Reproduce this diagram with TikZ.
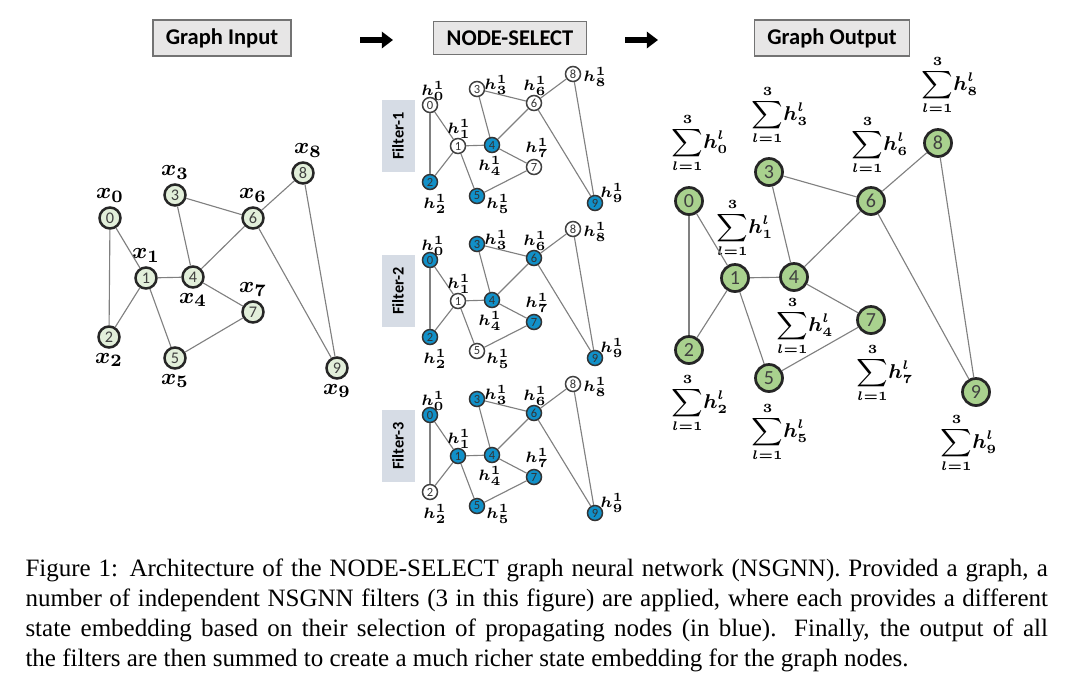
\documentclass[tikz,border=0pt]{standalone}
\usepackage{fontspec}
\setmainfont{Liberation Serif}
\setsansfont{Carlito}
\usepackage{amsmath}
\usepackage{tikz}
\usetikzlibrary{positioning, arrows.meta}

\definecolor{ingreen}{HTML}{E2EFDA}
\definecolor{outgreen}{HTML}{A9D18E}
\definecolor{selblue}{HTML}{1190C8}
\definecolor{boxgray}{HTML}{E7E6E6}
\definecolor{filterbg}{HTML}{D6DCE5}

\begin{document}
\begin{tikzpicture}[
    x=0.4pt, y=-0.4pt,
    header/.style={draw=black!55, fill=boxgray, line width=0.5pt, inner xsep=5.2pt, minimum height=13.2pt, font=\sffamily\bfseries\fontsize{9}{10}\selectfont},
    flow/.style={line width=2.4pt, -{Triangle[length=4.5pt, width=6.5pt]}},
    link/.style={draw=black!50, line width=0.45pt},
    innode/.style={circle, draw=black!85, line width=1pt, fill=ingreen, minimum size=8.4pt, inner sep=0pt, text=black!75, font=\sffamily\fontsize{6.5}{7}\selectfont},
    xlab/.style={inner sep=0pt, font=\fontsize{9.5}{10}\selectfont\boldmath},
    filterbox/.style={fill=filterbg, minimum width=29pt, minimum height=13.2pt, inner sep=0pt, font=\sffamily\bfseries\fontsize{6.5}{7}\selectfont},
    fnode/.style={circle, draw=black!75, line width=0.6pt, fill=white, minimum size=6pt, inner sep=0pt, text=black!80, font=\sffamily\fontsize{5}{5}\selectfont},
    sel/.style={fill=selblue, draw=black!80},
    hlab/.style={inner sep=0pt, font=\fontsize{5.6}{6}\selectfont\boldmath},
    outnode/.style={circle, draw=black!85, line width=1.1pt, fill=outgreen, minimum size=10.8pt, inner sep=0pt, text=black!75, font=\sffamily\fontsize{8}{9}\selectfont},
    sumlab/.style={inner sep=0pt, font=\fontsize{7.8}{8}\selectfont\boldmath},
    % blue (propagating) nodes of each filter
    blue1/.style={sel1-#1/.style=sel}, blue1/.list={2,4,5,9},
    blue2/.style={sel2-#1/.style=sel}, blue2/.list={0,2,3,4,6,7,9},
    blue3/.style={sel3-#1/.style=sel}, blue3/.list={0,1,3,4,5,6,7,9}
]
   \useasboundingbox (0,0) rectangle (1080,695);

   % Headers
   \node[header] (hin)  at (222,38) {Graph Input};
   \node[header] (hsel) at (510,38) {NODE-SELECT};
   \node[header] (hout) at (832,38) {Graph Output};
   \coordinate (a1) at (360,40);
   \coordinate (b1) at (393,40);
   \coordinate (a2) at (625,40);
   \coordinate (b2) at (658,40);
   \draw[flow] (a1) -- (b1);
   \draw[flow] (a2) -- (b2);

   % Input graph
   \node[innode] (i0) at (110,218) {0};
   \node[innode] (i1) at (146,278) {1};
   \node[innode] (i2) at (109,337) {2};
   \node[innode] (i3) at (175,195) {3};
   \node[innode] (i4) at (193,277) {4};
   \node[innode] (i5) at (175,358) {5};
   \node[innode] (i6) at (253,218) {6};
   \node[innode] (i7) at (253,312) {7};
   \node[innode] (i8) at (303,173) {8};
   \node[innode] (i9) at (337,368) {9};

   \node[xlab, above=1.5pt of i0] (x0) {$x_0$};
   \node[xlab, above=1.5pt of i1] (x1) {$x_1$};
   \node[xlab, below=1.5pt of i2] (x2) {$x_2$};
   \node[xlab, above=1.5pt of i3] (x3) {$x_3$};
   \node[xlab, below=1.5pt of i4] (x4) {$x_4$};
   \node[xlab, below=1.5pt of i5] (x5) {$x_5$};
   \node[xlab, above=1.5pt of i6] (x6) {$x_6$};
   \node[xlab, above=1.5pt of i7] (x7) {$x_7$};
   \node[xlab, above=1.5pt of i8, xshift=2pt] (x8) {$x_8$};
   \node[xlab, below=1.5pt of i9] (x9) {$x_9$};

   \path[link]
   (i0) edge (i1) edge (i2)
   (i1) edge (i2) edge (i4) edge (i5)
   (i3) edge (i4) edge (i6)
   (i4) edge (i6) edge (i7)
   (i5) edge (i7)
   (i6) edge (i8) edge (i9)
   (i8) edge (i9);

   % NODE-SELECT filters
   \foreach \f/\off in {1/0, 2/155, 3/310} {
     \begin{scope}[shift={(0,\off)}]
       \node[filterbox, rotate=90] (fb\f) at (398,136) {Filter-\f};
       \foreach \i/\x/\y in {0/430/105, 1/458/146, 2/430/182, 3/477/89, 4/492/145,
                             5/477/196, 6/534/103, 7/534/167, 8/573/74, 9/595/203}
         \node[fnode, sel\f-\i/.try] (f\f-\i) at (\x,\y) {\i};
       \foreach \a/\b in {0/1, 0/2, 1/2, 1/4, 1/5, 3/4, 3/6, 4/6, 4/7, 5/7, 6/8, 6/9, 8/9}
         \draw[link] (f\f-\a) -- (f\f-\b);
       \foreach \i/\dx/\dy in {0/3/-14, 1/1/-17, 2/5/22, 3/19/-4, 4/-2/21,
                               5/21/8, 6/1/-17, 7/3/-19, 8/22/3, 9/17/-10}
         \node[hlab] (h\f-\i) at ([shift={(\dx,\dy)}]f\f-\i) {$h^1_\i$};
     \end{scope}
   }

   % Output graph
   \node[outnode] (o0) at (689,201) {0};
   \node[outnode] (o1) at (735,278) {1};
   \node[outnode] (o2) at (689,350) {2};
   \node[outnode] (o3) at (769,172) {3};
   \node[outnode] (o4) at (794,277) {4};
   \node[outnode] (o5) at (769,378) {5};
   \node[outnode] (o6) at (871,201) {6};
   \node[outnode] (o7) at (871,320) {7};
   \node[outnode] (o8) at (938,143) {8};
   \node[outnode] (o9) at (976,392) {9};

   \node[sumlab] (s0) at (700,143) {$\displaystyle\sum_{l=1}^{3}\! h_0^l$};
   \node[sumlab] (s1) at (745,228) {$\displaystyle\sum_{l=1}^{3}\! h_1^l$};
   \node[sumlab] (s2) at (700,403) {$\displaystyle\sum_{l=1}^{3}\! h_2^l$};
   \node[sumlab] (s3) at (780,115) {$\displaystyle\sum_{l=1}^{3}\! h_3^l$};
   \node[sumlab] (s4) at (805,326) {$\displaystyle\sum_{l=1}^{3}\! h_4^l$};
   \node[sumlab] (s5) at (780,432) {$\displaystyle\sum_{l=1}^{3}\! h_5^l$};
   \node[sumlab] (s6) at (880,145) {$\displaystyle\sum_{l=1}^{3}\! h_6^l$};
   \node[sumlab] (s7) at (885,373) {$\displaystyle\sum_{l=1}^{3}\! h_7^l$};
   \node[sumlab] (s8) at (950,85)  {$\displaystyle\sum_{l=1}^{3}\! h_8^l$};
   \node[sumlab] (s9) at (969,443) {$\displaystyle\sum_{l=1}^{3}\! h_9^l$};

   \path[link]
   (o0) edge (o1) edge (o2)
   (o1) edge (o2) edge (o4) edge (o5)
   (o3) edge (o4) edge (o6)
   (o4) edge (o6) edge (o7)
   (o5) edge (o7)
   (o6) edge (o8) edge (o9)
   (o8) edge (o9);

   % Caption
   \node[anchor=north west, text width=409pt, align=justify, inner sep=0pt, font=\fontsize{10}{12}\selectfont] (caption) at (25,558)
   {Figure 1: Architecture of the NODE-SELECT graph neural network (NSGNN). Provided a graph, a\linebreak
    number of independent NSGNN filters (3 in this figure) are applied, where each provides a different\linebreak
    state embedding based on their selection of propagating nodes (in blue).  Finally, the output of all\linebreak
    the filters are then summed to create a much richer state embedding for the graph nodes.};
\end{tikzpicture}
\end{document}
